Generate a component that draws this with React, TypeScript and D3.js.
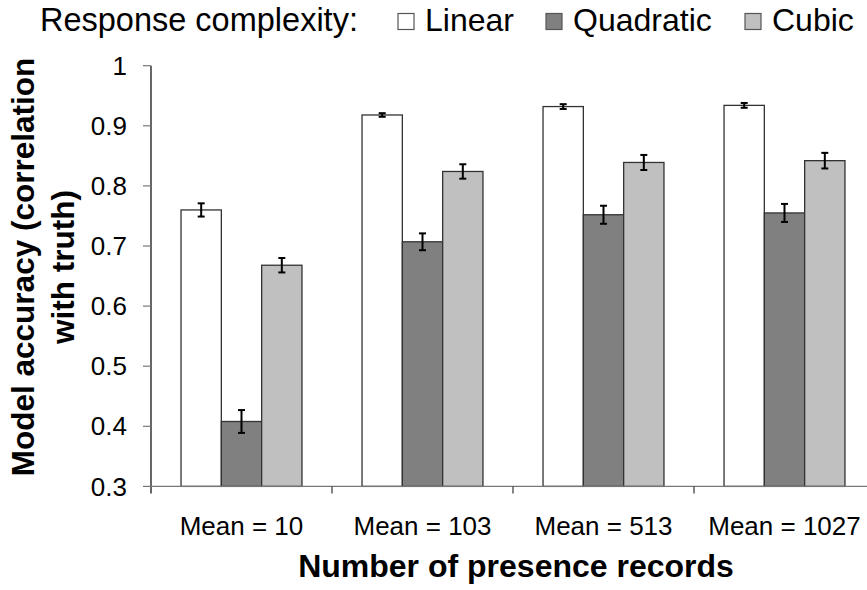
import React, { useEffect, useRef } from "react";
import * as d3 from "d3";

const categories = ["Mean = 10", "Mean = 103", "Mean = 513", "Mean = 1027"];
const seriesNames = ["Linear", "Quadratic", "Cubic"];
const linearValues = [0.76, 0.918, 0.932, 0.934];
const quadraticValues = [0.408, 0.707, 0.752, 0.755];
const cubicValues = [0.668, 0.824, 0.839, 0.842];
const linearErrors = [0.011, 0.003, 0.004, 0.004];
const quadraticErrors = [0.019, 0.014, 0.015, 0.015];
const cubicErrors = [0.012, 0.012, 0.0125, 0.013];
const yTicks = [0.3, 0.4, 0.5, 0.6, 0.7, 0.8, 0.9, 1];

const seriesColors = ["#ffffff", "#808080", "#c0c0c0"];
const FONT = "'Liberation Sans', Arial, sans-serif";

const App = () => {
  const chartRef = useRef(null);

  useEffect(() => {
    createChart();
  }, []);

  const createChart = () => {
    const width = 867;
    const height = 590;

    d3.select(chartRef.current).select("svg").remove();

    const svg = d3
      .select(chartRef.current)
      .append("svg")
      .attr("width", width)
      .attr("height", height)
      .style("position", "absolute")
      .style("left", 0)
      .style("top", 0)
      .style("font-family", FONT);

    const values = [linearValues, quadraticValues, cubicValues];
    const errors = [linearErrors, quadraticErrors, cubicErrors];

    const xScale = d3.scaleBand().domain(categories).range([151, 875]).padding(0);
    const inner = d3
      .scaleBand()
      .domain(seriesNames)
      .range([0, xScale.bandwidth()])
      .paddingInner(0)
      .paddingOuter(0.745);
    const yScale = d3.scaleLinear().domain([0.3, 1]).range([486.4, 65.7]);

    // Bars
    seriesNames.forEach((name, si) => {
      svg
        .append("g")
        .selectAll("rect")
        .data(categories)
        .enter()
        .append("rect")
        .attr("x", (c) => xScale(c) + inner(name))
        .attr("y", (c, i) => yScale(values[si][i]))
        .attr("width", inner.bandwidth())
        .attr("height", (c, i) => yScale(0.3) - yScale(values[si][i]))
        .attr("fill", seriesColors[si])
        .attr("stroke", "#333")
        .attr("stroke-width", 1.3);
    });

    // Error bars
    seriesNames.forEach((name, si) => {
      const g = svg.append("g").attr("stroke", "#000").attr("stroke-width", 2);
      categories.forEach((c, i) => {
        const cx = xScale(c) + inner(name) + inner.bandwidth() / 2;
        const top = yScale(values[si][i] + errors[si][i]);
        const bot = yScale(values[si][i] - errors[si][i]);
        g.append("line").attr("x1", cx).attr("x2", cx).attr("y1", top).attr("y2", bot);
        g.append("line").attr("x1", cx - 3.5).attr("x2", cx + 3.5).attr("y1", top).attr("y2", top);
        g.append("line").attr("x1", cx - 3.5).attr("x2", cx + 3.5).attr("y1", bot).attr("y2", bot);
      });
    });

    // Y axis
    const yAxis = svg.append("g");
    yAxis
      .append("line")
      .attr("x1", 151)
      .attr("x2", 151)
      .attr("y1", yScale(1))
      .attr("y2", yScale(0.3) + 7)
      .attr("stroke", "#000")
      .attr("stroke-width", 1.2);
    yAxis
      .selectAll(".tick")
      .data(yTicks)
      .enter()
      .append("line")
      .attr("x1", 143)
      .attr("x2", 151)
      .attr("y1", (d) => yScale(d))
      .attr("y2", (d) => yScale(d))
      .attr("stroke", "#777")
      .attr("stroke-width", 1.2);
    yAxis
      .selectAll("text")
      .data(yTicks)
      .enter()
      .append("text")
      .attr("x", 127)
      .attr("y", (d) => yScale(d))
      .attr("dy", "0.35em")
      .style("text-anchor", "end")
      .style("font-size", "26px")
      .text((d) => (d === 1 ? "1" : d3.format(".1f")(d)));

    // X axis
    const xAxis = svg.append("g");
    xAxis
      .append("line")
      .attr("x1", 151)
      .attr("x2", 867)
      .attr("y1", yScale(0.3))
      .attr("y2", yScale(0.3))
      .attr("stroke", "#777")
      .attr("stroke-width", 1.2);
    xAxis
      .selectAll(".tick")
      .data(categories.slice(1))
      .enter()
      .append("line")
      .attr("x1", (c) => xScale(c))
      .attr("x2", (c) => xScale(c))
      .attr("y1", yScale(0.3))
      .attr("y2", yScale(0.3) + 7)
      .attr("stroke", "#333")
      .attr("stroke-width", 1.2);
    xAxis
      .selectAll("text")
      .data(categories)
      .enter()
      .append("text")
      .attr("x", (c) => xScale(c) + xScale.bandwidth() / 2)
      .attr("y", 535)
      .style("text-anchor", "middle")
      .style("font-size", "26px")
      .text((c) => c);

    // Axis titles
    svg
      .append("text")
      .attr("x", 516)
      .attr("y", 577)
      .style("text-anchor", "middle")
      .style("font-size", "32px")
      .style("font-weight", "bold")
      .text("Number of presence records");

    const yTitle = svg.append("g").attr("transform", "translate(0,267) rotate(-90)");
    yTitle
      .append("text")
      .attr("x", 0)
      .attr("y", 34)
      .style("text-anchor", "middle")
      .style("font-size", "31.5px")
      .style("font-weight", "bold")
      .text("Model accuracy (correlation");
    yTitle
      .append("text")
      .attr("x", 0)
      .attr("y", 74)
      .style("text-anchor", "middle")
      .style("font-size", "31.5px")
      .style("font-weight", "bold")
      .text("with truth)");

    // Legend
    svg
      .append("text")
      .attr("x", 40)
      .attr("y", 31)
      .style("font-size", "32.5px")
      .text("Response complexity:");

    const legendX = [398, 546, 745];
    seriesNames.forEach((name, si) => {
      svg
        .append("rect")
        .attr("x", legendX[si])
        .attr("y", 13.5)
        .attr("width", 16)
        .attr("height", 16)
        .attr("fill", seriesColors[si])
        .attr("stroke", "#555")
        .attr("stroke-width", 1.2);
      svg
        .append("text")
        .attr("x", legendX[si] + 27)
        .attr("y", 31)
        .style("font-size", "32px")
        .text(name);
    });
  };

  return <div ref={chartRef}></div>;
};

export default App;
